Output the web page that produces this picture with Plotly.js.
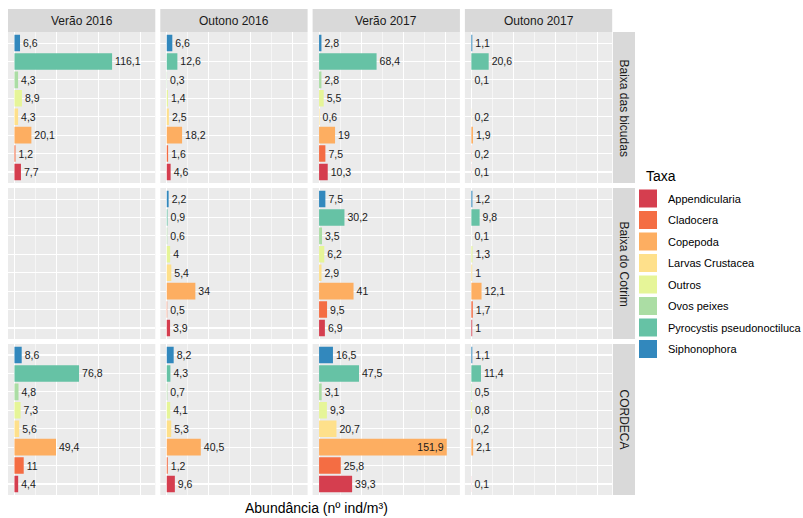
<!DOCTYPE html>
<html><head><meta charset="utf-8">
<script src="https://cdn.plot.ly/plotly-3.0.1.min.js"></script>
<style>html,body{margin:0;padding:0;background:#fff;} #chart{width:803px;height:518px;}</style>
</head><body><div id="chart"></div>
<script>
// Taxa in legend order (bottom bar -> top bar inside each panel)
const taxa = ["Appendicularia","Cladocera","Copepoda","Larvas Crustacea","Outros","Ovos peixes","Pyrocystis pseudonoctiluca","Siphonophora"];
const taxaColors = ["#D53E4F","#F46D43","#FDAE61","#FEE08B","#E6F598","#ABDDA4","#66C2A5","#3288BD"];
const seasons = ["Verão 2016","Outono 2016","Verão 2017","Outono 2017"];
const sites = ["Baixa das bicudas","Baixa do Cotrim","CORDECA"];

// Abundance values, in taxa order, one array per site x season
const bicudas_V2016 = [7.7, 1.2, 20.1, 4.3, 8.9, 4.3, 116.1, 6.6];
const bicudas_O2016 = [4.6, 1.6, 18.2, 2.5, 1.4, 0.3, 12.6, 6.6];
const bicudas_V2017 = [10.3, 7.5, 19, 0.6, 5.5, 2.8, 68.4, 2.8];
const bicudas_O2017 = [0.1, 0.2, 1.9, 0.2, null, 0.1, 20.6, 1.1];

const cotrim_V2016 = [null, null, null, null, null, null, null, null];
const cotrim_O2016 = [3.9, 0.5, 34, 5.4, 4, 0.6, 0.9, 2.2];
const cotrim_V2017 = [6.9, 9.5, 41, 2.9, 6.2, 3.5, 30.2, 7.5];
const cotrim_O2017 = [1, 1.7, 12.1, 1, 1.3, 0.1, 9.8, 1.2];

const cordeca_V2016 = [4.4, 11, 49.4, 5.6, 7.3, 4.8, 76.8, 8.6];
const cordeca_O2016 = [9.6, 1.2, 40.5, 5.3, 4.1, 0.7, 4.3, 8.2];
const cordeca_V2017 = [39.3, 25.8, 151.9, 20.7, 9.3, 3.1, 47.5, 16.5];
const cordeca_O2017 = [0.1, null, 2.1, 0.2, 0.8, 0.5, 11.4, 1.1];

const panelValues = [
  [bicudas_V2016, bicudas_O2016, bicudas_V2017, bicudas_O2017],
  [cotrim_V2016, cotrim_O2016, cotrim_V2017, cotrim_O2017],
  [cordeca_V2016, cordeca_O2016, cordeca_V2017, cordeca_O2017]
];

// ---------- layout geometry (pixels) ----------
const W = 803, H = 518;
const M = {l: 8, r: 168, t: 9, b: 23};
const PW = W - M.l - M.r, PH = H - M.t - M.b;
const fx = px => (px - M.l) / PW;
const fy = py => (H - M.b - py) / PH;
const colW = 147.3, colGap = 5, colStart0 = 8;
const rowH = 151, rowGap = 5, rowStart0 = 32;
const stripTop = 9;
const rstripX0 = 613, rstripX1 = 635;
const FONT = "Liberation Sans, Arial, Helvetica, sans-serif";
const XRANGE = [-7.7, 167.5];

const fmt = v => (v === null ? "" : String(v).replace(".", ","));

const data = [];
const layout = {
  width: W, height: H,
  margin: {l: M.l, r: M.r, t: M.t, b: M.b, pad: 0, autoexpand: false},
  paper_bgcolor: "#FFFFFF",
  plot_bgcolor: "#EBEBEB",
  font: {family: FONT, color: "#1A1A1A"},
  bargap: 0.1,
  showlegend: true,
  legend: {
    xref: "container", yref: "container",
    x: 628 / W, xanchor: "left", y: 1 - 184 / H, yanchor: "top",
    font: {size: 11, color: "#000"},
    traceorder: "grouped", tracegroupgap: 2.5,
    itemwidth: 30, bgcolor: "rgba(0,0,0,0)", borderwidth: 0
  },
  shapes: [], annotations: []
};

for (let c = 0; c < 4; c++) {
  const x0 = colStart0 + c * (colW + colGap), x1 = x0 + colW;
  const name = "xaxis" + (c === 0 ? "" : c + 1);
  layout[name] = {
    domain: [fx(x0), fx(x1)], range: XRANGE, anchor: "y3",
    showticklabels: false, ticks: "", showline: false, zeroline: false,
    showgrid: true, gridcolor: "#FFFFFF", gridwidth: 1.1, tick0: 0, dtick: 50,
    minor: {tick0: 0, dtick: 25, showgrid: true, gridcolor: "#FFFFFF", gridwidth: 0.55, ticks: ""},
    fixedrange: true
  };
  layout.shapes.push({type: "rect", xref: "paper", yref: "paper", x0: fx(x0), x1: fx(x1),
    y0: fy(rowStart0), y1: fy(stripTop), fillcolor: "#D9D9D9", line: {width: 0}, layer: "below"});
  layout.annotations.push({xref: "paper", yref: "paper", x: fx((x0 + x1) / 2), y: fy((rowStart0 + stripTop) / 2),
    text: seasons[c], showarrow: false, xanchor: "center", yanchor: "middle",
    font: {size: 12, color: "#1A1A1A", family: FONT}});
}

for (let r = 0; r < 3; r++) {
  const y0 = rowStart0 + r * (rowH + rowGap), y1 = y0 + rowH;
  layout["yaxis" + (r + 1)] = {
    domain: [fy(y1), fy(y0)], type: "category", categoryorder: "array", categoryarray: taxa,
    range: [-0.6, taxa.length - 0.4], anchor: "x",
    showticklabels: false, ticks: "", showline: false, zeroline: false,
    showgrid: true, gridcolor: "#FFFFFF", gridwidth: 1.1, fixedrange: true
  };
  layout.shapes.push({type: "rect", xref: "paper", yref: "paper", x0: fx(rstripX0), x1: fx(rstripX1),
    y0: fy(y1), y1: fy(y0), fillcolor: "#D9D9D9", line: {width: 0}, layer: "below"});
  layout.annotations.push({xref: "paper", yref: "paper", x: fx((rstripX0 + rstripX1) / 2), y: fy((y0 + y1) / 2),
    text: sites[r], textangle: 90, showarrow: false, xanchor: "center", yanchor: "middle",
    font: {size: 12, color: "#1A1A1A", family: FONT}});
}

// legend title
layout.annotations.push({xref: "paper", yref: "paper", x: fx(644), y: fy(176),
  text: "Taxa", showarrow: false, xanchor: "left", yanchor: "middle",
  font: {size: 14, color: "#000", family: FONT}});

// axis title shared by all panels
layout.annotations.push({xref: "paper", yref: "paper", x: fx(316), y: fy(508),
  text: "Abundância (nº ind/m³)", showarrow: false, xanchor: "center", yanchor: "middle",
  font: {size: 14, color: "#000", family: FONT}});

const insideLimit = 0.8 * XRANGE[1];
for (let r = 0; r < 3; r++) {
  for (let c = 0; c < 4; c++) {
    const vals = panelValues[r][c];
    data.push({
      type: "bar", orientation: "h",
      x: vals, y: taxa,
      xaxis: "x" + (c === 0 ? "" : c + 1), yaxis: "y" + (r + 1),
      width: 0.9,
      marker: {color: taxaColors, line: {width: 0}},
      text: vals.map(fmt),
      textposition: vals.map(v => (v !== null && v > insideLimit ? "inside" : "outside")),
      insidetextanchor: "end",
      textfont: {size: 10.5, color: "#1A1A1A", family: FONT},
      insidetextfont: {size: 10.5, color: "#1A1A1A", family: FONT},
      outsidetextfont: {size: 10.5, color: "#1A1A1A", family: FONT},
      constraintext: "none", cliponaxis: false,
      showlegend: false, hoverinfo: "skip"
    });
  }
}

// legend entries
taxa.forEach((t, i) => {
  data.push({
    type: "scatter", mode: "markers", x: [null], y: [null], xaxis: "x", yaxis: "y1",
    name: t, legendgroup: "g" + i,
    marker: {symbol: "square", size: 20, color: taxaColors[i], line: {color: taxaColors[i], width: 2}},
    showlegend: true, hoverinfo: "skip"
  });
});

Plotly.newPlot("chart", data, layout, {staticPlot: true, displayModeBar: false});
</script>
</body></html>
